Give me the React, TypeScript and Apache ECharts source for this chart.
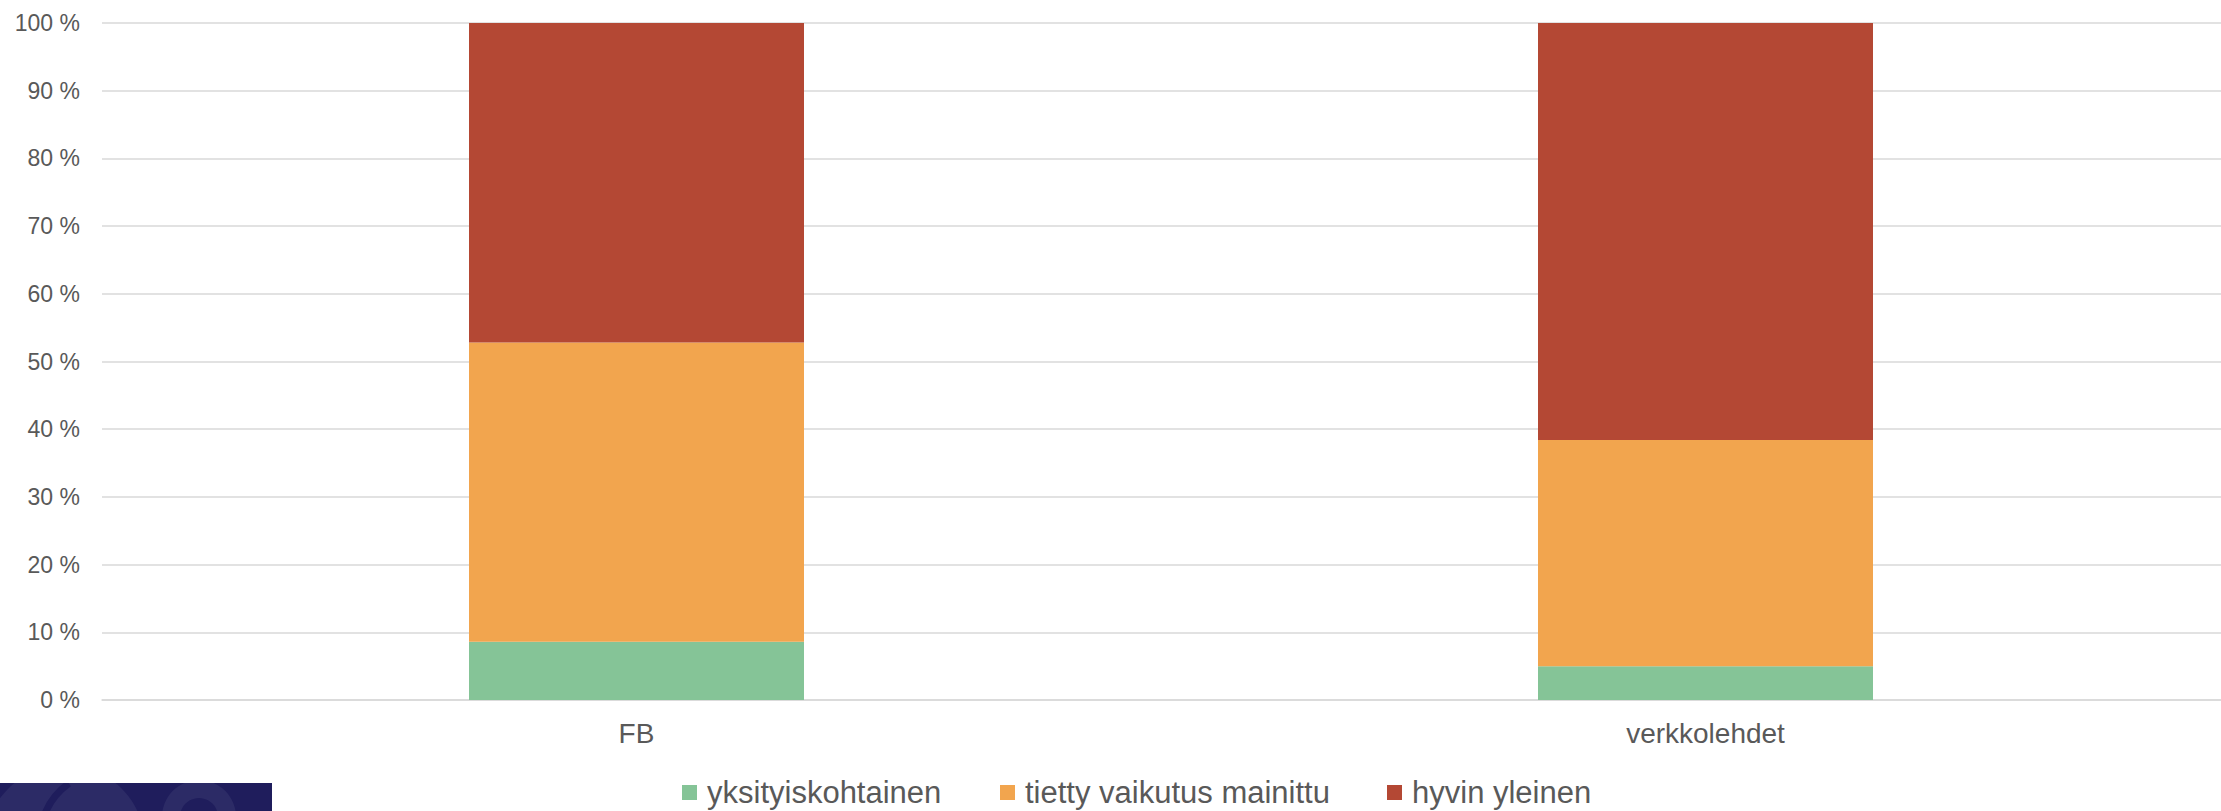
import React, { useEffect, useRef } from "react";
import * as echarts from "echarts";

const categories = ["FB", "verkkolehdet"];
const seriesNames = ["yksityiskohtainen", "tietty vaikutus mainittu", "hyvin yleinen"];
const yksityiskohtainen = [8.6, 5.0];
const tiettyVaikutus = [44.2, 33.4];
const hyvinYleinen = [47.2, 61.6];
const seriesColors = ["#85C497", "#F2A54E", "#B44834"];
const legendLefts = [682, 1000, 1387];

export default function App() {
  const ref = useRef<HTMLDivElement>(null);
  useEffect(() => {
    if (!ref.current) return;
    const chart = echarts.init(ref.current, undefined, { renderer: "svg" });
    const font = "'Liberation Sans', Arial, Helvetica, sans-serif";
    const values = [yksityiskohtainen, tiettyVaikutus, hyvinYleinen];
    chart.setOption({
      animation: false,
      backgroundColor: "#ffffff",
      textStyle: { fontFamily: font },
      grid: { left: 102, right: 0, top: 23, bottom: 111, containLabel: false },
      legend: seriesNames.map((n, i) => ({
        data: [n],
        left: legendLefts[i],
        top: 777,
        padding: 0,
        itemWidth: 15,
        itemHeight: 15,
        icon: "rect",
        textStyle: { fontSize: 31, lineHeight: 28, color: "#595959", fontFamily: font, padding: [0, 0, 0, 5] },
      })),
      xAxis: {
        type: "category",
        data: categories,
        axisLine: { show: true, lineStyle: { color: "#D9D9D9", width: 1.5 } },
        axisTick: { show: false },
        axisLabel: { fontSize: 28, color: "#595959", margin: 19, fontFamily: font },
      },
      yAxis: {
        type: "value",
        min: 0,
        max: 100,
        interval: 10,
        axisLine: { show: false },
        axisTick: { show: false },
        axisLabel: { formatter: "{value} %", fontSize: 23, color: "#595959", margin: 22, fontFamily: font },
        splitLine: { lineStyle: { color: "#D9D9D9", width: 1.5 } },
      },
      series: seriesNames.map((n, i) => ({
        name: n,
        type: "bar",
        stack: "total",
        barWidth: 335,
        data: values[i],
        itemStyle: { color: seriesColors[i] },
      })),
      graphic: [
        { type: "rect", left: 0, top: 783, shape: { width: 272, height: 28 }, style: { fill: "#1F1D5C" }, z: 1 },
        { type: "circle", shape: { cx: 65, cy: 845, r: 80 }, style: { fill: "#2C2B66" }, z: 2 },
        { type: "arc", shape: { cx: 110, cy: 840, r: 70, startAngle: Math.PI * 1.05, endAngle: Math.PI * 1.3 }, style: { stroke: "#1F1D5C", lineWidth: 7, fill: "none" }, z: 3 },
        { type: "ring", shape: { cx: 199, cy: 817, r: 37, r0: 19 }, style: { fill: "#2C2B66" }, z: 2 },
        { type: "rect", shape: { x: 0, y: 740, width: 280, height: 43 }, style: { fill: "#ffffff" }, z: 4 },
      ],
    });
    return () => chart.dispose();
  }, []);
  return (
    <div style={{ position: "fixed", left: 0, top: 0, width: 2221, height: 811, overflow: "hidden", background: "#fff" }}>
      <div ref={ref} style={{ width: 2240, height: 811 }} />
    </div>
  );
}
